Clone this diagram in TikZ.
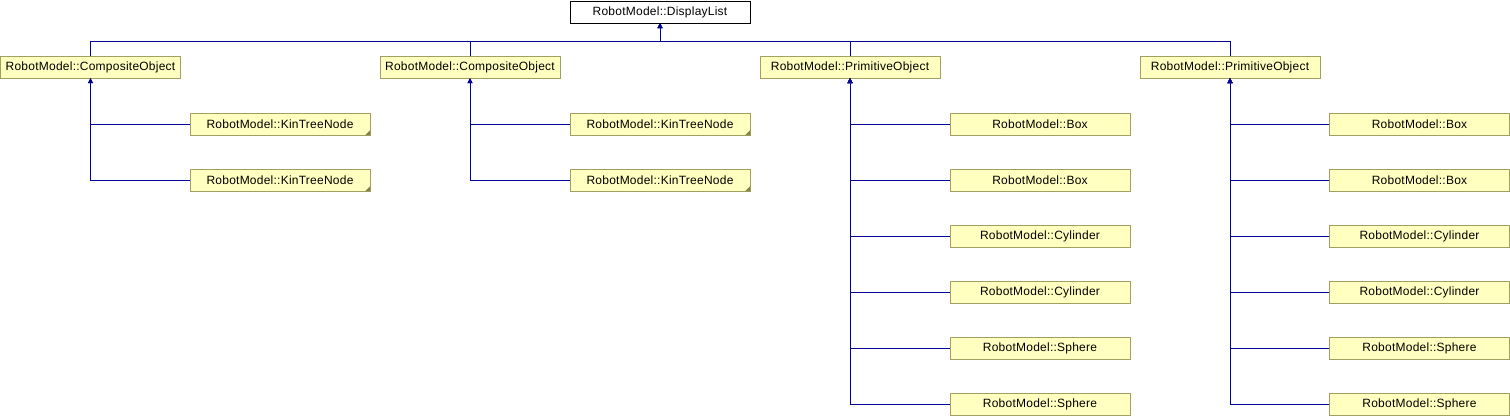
\documentclass[tikz,border=0pt]{standalone}
\usepackage{fontspec}
\setmainfont{Liberation Sans}[LetterSpace=2]
\usetikzlibrary{calc,positioning,arrows.meta}
\definecolor{edgeblue}{RGB}{0,0,153}
\definecolor{clsfill}{RGB}{255,255,192}
\definecolor{clsdraw}{RGB}{160,160,96}

\begin{document}
\begin{tikzpicture}[x=1pt, y=-1pt, font=\fontsize{12}{13}\selectfont,
  edge/.style={draw=edgeblue, line width=0.8pt, -{Triangle[length=5pt,width=5pt]}}]
\tikzstyle{cls}=[draw=clsdraw, fill=clsfill, minimum width=180pt, minimum height=22pt, inner sep=0pt]
\tikzstyle{base}=[draw=black, fill=white, minimum width=180pt, minimum height=22pt, inner sep=0pt]
\useasboundingbox (0,0) rectangle (1510,416);
\node[base] (dl) at (660,12) {RobotModel::DisplayList};
\node[cls] (co1) at (90.5,67) {RobotModel::CompositeObject};
\node[cls] (co2) at (470,67) {RobotModel::CompositeObject};
\node[cls] (po1) at (850,67) {RobotModel::PrimitiveObject};
\node[cls] (po2) at (1230,67) {RobotModel::PrimitiveObject};
\coordinate (bus) at (660,41);
% children of the composite objects
\node[cls] (ka) at (280,124) {RobotModel::KinTreeNode};
\node[cls] (kb) at (280,180) {RobotModel::KinTreeNode};
\node[cls] (kc) at (660,124) {RobotModel::KinTreeNode};
\node[cls] (kd) at (660,180) {RobotModel::KinTreeNode};
% children of the primitive objects
\foreach \n/\y/\t in {a/124/Box, b/180/Box, c/236/Cylinder, d/292/Cylinder, e/348/Sphere, f/404/Sphere}{
  \node[cls] (p\n) at (1040,\y) {RobotModel::\t};
  \node[cls] (q\n) at (1419.5,\y) {RobotModel::\t};
}
\foreach \i in {co1,co2,po1,po2}{\draw[edge] (\i.north) |- (bus) -- (dl.south);}
\foreach \i/\j in {ka/co1,kb/co1,kc/co2,kd/co2}{
  \draw[edge] (\i.west) -| (\j.south);
  \fill[clsdraw!80!black] (\i.south east) -- ++(-5,0) -- ++(5,-5) -- cycle;
}
\foreach \i in {a,b,c,d,e,f}{
  \draw[edge] (p\i.west) -| (po1.south);
  \draw[edge] (q\i.west) -| (po2.south);
}
\end{tikzpicture}
\end{document}
